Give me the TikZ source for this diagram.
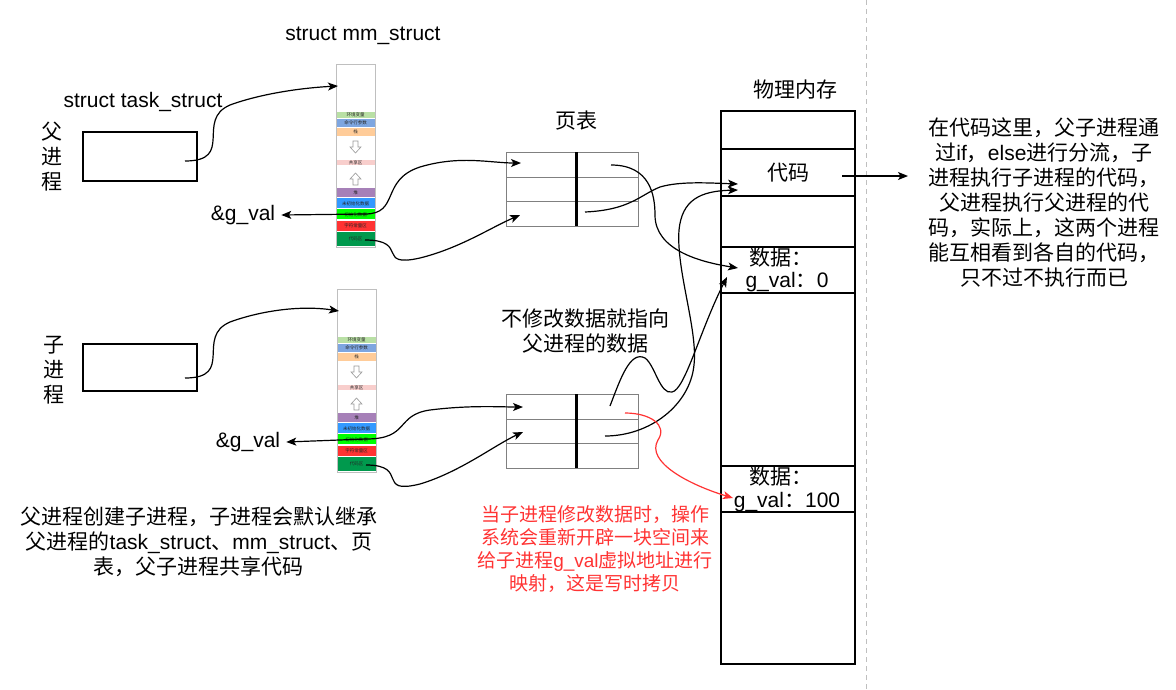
\documentclass[tikz,border=0pt]{standalone}
\usepackage{fontspec}
\setmainfont{Noto Sans CJK SC}
\newfontfamily\lat{Liberation Sans}
\usetikzlibrary{arrows.meta}
\definecolor{cEnv}{HTML}{B9E0A5}
\definecolor{cCmd}{HTML}{7EA6E0}
\definecolor{cStack}{HTML}{FFCC99}
\definecolor{cShare}{HTML}{F8CECC}
\definecolor{cHeap}{HTML}{A680B8}
\definecolor{cUninit}{HTML}{3399FF}
\definecolor{cInit}{HTML}{00FF00}
\definecolor{cConst}{HTML}{FF3333}
\definecolor{cCode}{HTML}{00994D}
\definecolor{cRed}{HTML}{FF3333}
\newcommand\mmcolumn[3]{% x, top, prefix
  \begin{scope}[shift={(#1,#2)}]
    \draw[colborder] (0,0) rectangle (39,183);
    \foreach \ya/\yb/\cc/\tt in {47.7/54.3/cEnv/环境变量,55.3/62.7/cCmd/命令行参数,63.7/71.7/cStack/栈,96/101/cShare/共享区,124.3/133.3/cHeap/堆,134.3/144.3/cUninit/未初始化数据,145.3/155.3/cInit/初始化数据,156.7/166.7/cConst/字符常量区,167.7/182/cCode/代码区}{
      \fill[\cc] (0.5,\ya) rectangle (38.5,\yb);
      \node[tiny] at (19.5,{(\ya+\yb)/2}) {\tt};
    }
    \draw[hollow] (17,77) -- (22,77) -- (22,83) -- (25,83) -- (19.5,89) -- (14,83) -- (17,83) -- cycle;
    \draw[hollow] (17,121) -- (22,121) -- (22,115) -- (25,115) -- (19.5,109) -- (14,115) -- (17,115) -- cycle;
    \coordinate (#3init) at (29,150);
    \coordinate (#3code) at (29,176);
    \coordinate (#3top) at (2,22);
  \end{scope}
}
\begin{document}
\begin{tikzpicture}[x=1pt,y=-1pt,
  arr/.style={-{Stealth[length=10pt,width=8pt,inset=2.5pt]}, line width=1.2pt},
  colborder/.style={draw=black!25, line width=0.8pt},
  tiny/.style={font=\fontsize{4.5}{4.5}\selectfont, text=black!85, inner sep=0pt},
  hollow/.style={draw=black!40, fill=white, line width=0.6pt},
  lbl/.style={font=\fontsize{21}{25}\selectfont, inner sep=0pt, align=center},
  redlbl/.style={font=\fontsize{19}{23}\selectfont, inner sep=0pt, align=center, text=cRed},
  box/.style={draw=black, line width=1.2pt},
  ptline/.style={draw=black!50, line width=1pt},
  memline/.style={draw=black, line width=1.4pt}]
\useasboundingbox (0,0) rectangle (1176,689);

% dashed separator
\draw[black!25, line width=1pt, dash pattern=on 5pt off 4pt] (866,0) -- (866,689);

% titles
\node[lbl] (tmm) at (363,36) {\lat struct mm\_struct};
\node[lbl] (ttask) at (143,102) {\lat struct task\_struct};
\node[lbl] (tpt) at (576,121) {页表};
\node[lbl] (tmem) at (795,90) {物理内存};

% process boxes
\node[lbl] (lfather) at (52,157) {父\\进\\程};
\node[lbl] (lchild) at (54,370) {子\\进\\程};
\draw[box] (83,132) rectangle (197,181);
\draw[box] (83,344) rectangle (197,391);
\coordinate (ptask) at (185,161);
\coordinate (ctask) at (185,378);

% mm_struct columns
\mmcolumn{336}{64}{p}
\mmcolumn{337}{289}{c}

% &g_val labels
\node[lbl] (pgv) at (243,215) {\lat \&g\_val};
\node[lbl] (cgv) at (248,442) {\lat \&g\_val};

% page tables
\foreach \t/\yy in {ptab/152,ctab/394}{
  \begin{scope}[shift={(0,\yy)}]
    \draw[ptline] (506,0) rectangle (638,74);
    \draw[ptline] (506,25) -- (638,25);
    \draw[ptline] (506,49) -- (638,49);
    \draw[black, line width=3pt] (576,0) -- (576,74);
  \end{scope}
}
\coordinate (pr1in) at (521,163);
\coordinate (pr3in) at (520,215);
\coordinate (pr1out) at (611,165);
\coordinate (pr3out) at (585,212);
\coordinate (cr1in) at (523,407);
\coordinate (cr2in) at (523,432);
\coordinate (cr1out) at (610,406);
\coordinate (cr2out) at (605,436);
\coordinate (cr1red) at (625,413);

% physical memory
\draw[memline] (721,111) rectangle (855,664);
\foreach \yy in {149,196,247,293,466,512}{ \draw[memline] (721,\yy) -- (855,\yy); }
\node[lbl] (mcode) at (788,173) {代码};
\node[lbl] (md0a) at (781,258) {数据：};
\node[lbl] (md0b) at (787,282) {{\lat g\_val}：{\lat 0}};
\node[lbl] (md1a) at (781,477) {数据：};
\node[lbl] (md1b) at (787,502) {{\lat g\_val}：{\lat 100}};
\coordinate (codein1) at (738,184);
\coordinate (codein2) at (738,190);
\coordinate (d0in1) at (738,268);
\coordinate (d0in2) at (727,277);
\coordinate (d1in) at (733,498);
\coordinate (codeout) at (842,176);
\coordinate (noteleft) at (908,176);

% texts
\node[lbl] (note1) at (1044,202) {在代码这里，父子进程通\\过{\lat if}，{\lat else}进行分流，子\\进程执行子进程的代码，\\父进程执行父进程的代\\码，实际上，这两个进程\\能互相看到各自的代码，\\只不过不执行而已};
\node[lbl] (note2) at (585,331) {不修改数据就指向\\父进程的数据};
\node[lbl] (note3) at (199,542) {父进程创建子进程，子进程会默认继承\\父进程的{\lat task\_struct}、{\lat mm\_struct}、页\\表，父子进程共享代码};
\node[redlbl] (note4) at (595,549) {当子进程修改数据时，操作\\系统会重新开辟一块空间来\\给子进程{\lat g\_val}虚拟地址进行\\映射，这是写时拷贝};

% connectors
\draw[arr] (ptask) .. controls (235,161) and (195,120) .. (230,105) .. controls (260,94) and (300,88) .. (ptop);
\draw[arr] (ctask) .. controls (235,378) and (195,337) .. (230,322) .. controls (260,311) and (300,305) .. (ctop);
\draw[arr] (pinit) -- ([xshift=6pt]pgv.east);
\draw[arr] (cinit) -- ([xshift=6pt]cgv.east);
\draw[arr] (pinit) .. controls (400,214) and (380,180) .. (420,167) .. controls (460,155) and (490,163) .. (pr1in);
\draw[arr] (pcode) .. controls (410,240) and (375,268) .. (420,258) .. controls (460,248) and (490,228) .. (pr3in);
\draw[arr] (cinit) .. controls (410,439) and (395,415) .. (430,410) .. controls (470,405) and (500,407) .. (cr1in);
\draw[arr] (ccode) .. controls (410,465) and (375,495) .. (420,484) .. controls (460,472) and (495,445) .. (cr2in);
\draw[arr] (pr1out) .. controls (650,165) and (655,195) .. (655,215) .. controls (655,250) and (700,262) .. (d0in1);
\draw[arr] (pr3out) .. controls (630,210) and (640,195) .. (660,187) .. controls (680,181) and (710,183) .. (codein1);
\draw[arr] (cr2out) .. controls (650,436) and (690,405) .. (694,365) .. controls (698,330) and (676,270) .. (679,230) .. controls (682,200) and (700,191) .. (codein2);
\draw[arr] (cr1out) .. controls (620,380) and (630,350) .. (645,358) .. controls (655,365) and (660,395) .. (672,392) .. controls (685,390) and (700,330) .. (d0in2);
\draw[arr, draw=cRed] (cr1red) .. controls (650,413) and (668,425) .. (658,440) .. controls (645,462) and (690,485) .. (d1in);
\draw[arr] (codeout) -- (noteleft);
\end{tikzpicture}
\end{document}
